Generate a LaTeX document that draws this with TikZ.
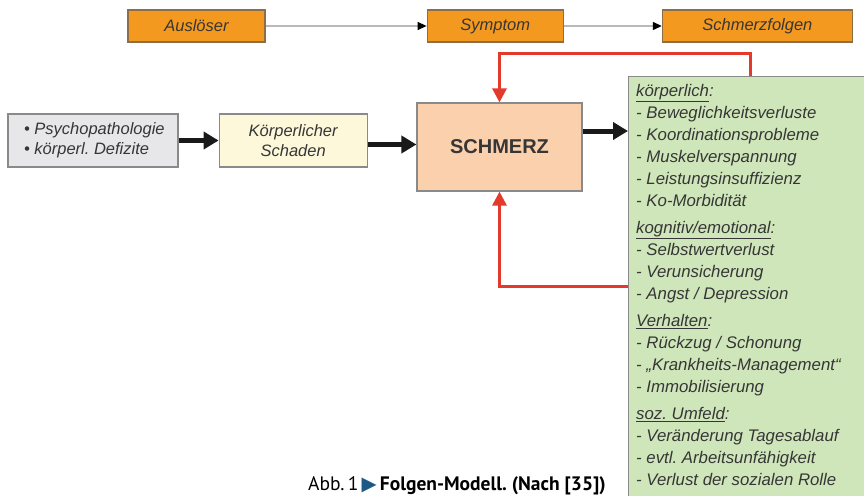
\documentclass[tikz,border=0pt]{standalone}
\usepackage{fontspec}
\setmainfont{Liberation Sans}
\newfontfamily\captionfont{PT Sans}
\newfontfamily\symbolfont{DejaVu Sans}
\usepackage{tikz}
\usetikzlibrary{arrows.meta,positioning,calc}
\frenchspacing

\definecolor{triggerorange}{HTML}{F4991F}
\definecolor{boxbrown}{HTML}{8C6E48}
\definecolor{boxgrey}{HTML}{8A8A8A}
\definecolor{painpeach}{HTML}{FBD0AC}
\definecolor{resultgreen}{HTML}{CFE6BA}
\definecolor{causegrey}{HTML}{E7E7E9}
\definecolor{damageyellow}{HTML}{FDF8DA}
\definecolor{textgrey}{HTML}{363636}
\definecolor{feedbackred}{HTML}{E33A2C}
\definecolor{captionblue}{HTML}{1C5A85}

\newcommand{\folgenhead}[1]{\underline{#1}:}

\begin{document}
\begin{tikzpicture}[x=1pt,y=-1pt,>=Triangle,
    topbox/.style={draw=boxbrown,line width=1.2pt,fill=triggerorange,minimum height=32pt,
        inner sep=0pt,font=\fontsize{16.5}{20}\selectfont\itshape,text=textgrey},
    sidebox/.style={draw=boxgrey,line width=1.2pt,minimum height=53pt,inner sep=0pt,
        font=\fontsize{16.5}{20}\selectfont\itshape,text=textgrey},
    thinarrow/.style={draw=gray!55,line width=1.3pt,-{Triangle[length=9pt,width=8pt,color=black]}},
    fatarrow/.style={draw=black!90,line width=5pt,-{Triangle[length=15pt,width=17pt]}},
    feedback/.style={draw=feedbackred,line width=3pt,-{Triangle[length=14pt,width=14pt]}}]

    \useasboundingbox (0,0) rectangle (864,495);
    \clip (0,0) rectangle (864,495);

    % --- Top row ---
    \node[topbox,minimum width=137pt] (ausloeser) at (196.5,26) {Auslöser};
    \node[topbox,minimum width=136pt,right=161pt of ausloeser] (symptom) {Symptom};
    \node[topbox,minimum width=190pt,right=98pt of symptom] (schmerzfolgen) {Schmerzfolgen};

    \draw[thinarrow] (ausloeser) -- (symptom);
    \draw[thinarrow] (symptom) -- (schmerzfolgen);

    % --- Causes ---
    \node[sidebox,fill=causegrey,minimum width=170pt,align=left] (ursachen) at (93,140.5)
        {\,• Psychopathologie\\\,• körperl. Defizite\hspace{18pt}};
    \node[sidebox,fill=damageyellow,minimum width=148pt,align=center,right=40pt of ursachen] (schaden)
        {Körperlicher\\Schaden};

    % --- Pain ---
    \node[draw=boxgrey,line width=1.2pt,fill=painpeach,minimum width=165pt,minimum height=88pt,
        font=\fontsize{20}{24}\selectfont\bfseries,text=textgrey] (schmerz) at (499.5,147) {SCHMERZ};

    % --- Consequences ---
    \node[draw=boxgrey,line width=1.2pt,fill=resultgreen,anchor=north west,minimum width=260pt,
        minimum height=440pt] (folgen) at (628,76) {};
    \node[anchor=north west,align=left,inner sep=0pt,text=textgrey,
        font=\fontsize{16.8}{22.1}\selectfont\itshape] (folgentext) at ($(folgen.north west)+(8,8)$)
        {\folgenhead{körperlich}\\
         - Beweglichkeitsverluste\\
         - Koordinationsprobleme\\
         - Muskelverspannung\\
         - Leistungsinsuffizienz\\
         - Ko-Morbidität\\[4.5pt]
         \folgenhead{kognitiv/emotional}\\
         - Selbstwertverlust\\
         - Verunsicherung\\
         - Angst / Depression\\[4.5pt]
         \folgenhead{Verhalten}\\
         - Rückzug / Schonung\\
         - „Krankheits-Management“\\
         - Immobilisierung\\[4.5pt]
         \folgenhead{soz. Umfeld}\\
         - Veränderung Tagesablauf\\
         - evtl. Arbeitsunfähigkeit\\
         - Verlust der sozialen Rolle};

    % --- Arrows ---
    \coordinate (schadenout) at ([yshift=-4pt]schaden.east);
    \coordinate (painout) at ([yshift=16pt]schmerz.east);
    \draw[fatarrow] (ursachen) -- (schaden);
    \draw[fatarrow] (schadenout) -- (schmerz.west |- schadenout);
    \draw[fatarrow] (painout) -- (folgen.west |- painout);

    % Feedback loops
    \coordinate (fbtop) at (750,54);
    \coordinate (fbbottom) at (499.5,286);
    \draw[feedback] (fbtop |- folgen.north) -- (fbtop) -| (schmerz.north);
    \draw[feedback] (folgen.west |- fbbottom) -- (fbbottom) -- (schmerz.south);

    % --- Caption ---
    \node[anchor=base west,inner sep=0pt,font=\captionfont\fontsize{19.5}{22}\selectfont] (caption) at (308,490)
        {Abb.\,1\,{\symbolfont\color{captionblue}▶}\,\textbf{Folgen-Modell. (Nach [35])}};

\end{tikzpicture}
\end{document}
